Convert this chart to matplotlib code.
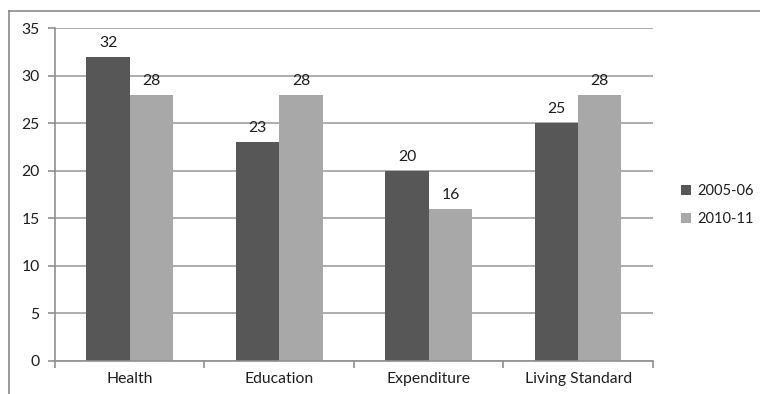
import matplotlib.pyplot as plt
from matplotlib.lines import Line2D
import numpy as np

categories = ['Health', 'Education', 'Expenditure', 'Living Standard']
series_names = ['2005-06', '2010-11']
values_2005 = [32, 23, 20, 25]
values_2010 = [28, 28, 16, 28]

plt.rcParams['font.family'] = ['Lato', 'DejaVu Sans']
fs = 11.3

fig = plt.figure(figsize=(7.6, 3.94), dpi=100)
ax = fig.add_axes([0.0724, 0.0838, 0.7866, 0.845])

x = np.arange(len(categories))
w = 0.29
dark = '#575757'
light = '#a8a8a8'
b1 = ax.bar(x - w / 2, values_2005, w, color=dark, label=series_names[0], zorder=2)
b2 = ax.bar(x + w / 2, values_2010, w, color=light, label=series_names[1], zorder=2)

for bars in (b1, b2):
    for rect in bars:
        h = rect.get_height()
        ax.annotate(f'{h:g}', (rect.get_x() + rect.get_width() / 2, h),
                    xytext=(0, 5), textcoords='offset points',
                    ha='center', va='bottom', fontsize=fs, color='#1e1e1e')

ax.set_xlim(-0.5, len(categories) - 0.5)
ax.set_ylim(0, 35)
ax.set_yticks(range(0, 36, 5))
ax.yaxis.grid(True, color='#a0a0a0', linewidth=1.2, zorder=0)
ax.set_axisbelow(True)

# category labels sit between the boundary ticks
ax.set_xticks(x)
ax.set_xticklabels(categories, fontsize=fs, color='#1e1e1e')
ax.tick_params(axis='x', which='major', length=0, pad=8)
ax.set_xticks(np.arange(-0.5, len(categories)), minor=True)
ax.tick_params(axis='x', which='minor', length=5, color='#909090', width=1.2)
ax.tick_params(axis='y', length=5, color='#909090', width=1.2,
               labelsize=fs, labelcolor='#1e1e1e', pad=6)

for side in ('top', 'right'):
    ax.spines[side].set_visible(False)
for side in ('left', 'bottom'):
    ax.spines[side].set_color('#909090')
    ax.spines[side].set_linewidth(1.2)

leg = ax.legend(loc='center left', bbox_to_anchor=(1.025, 0.469), frameon=False,
                handlelength=0.7, handleheight=0.7, handletextpad=0.4,
                labelspacing=0.95, fontsize=10.5)
for t in leg.get_texts():
    t.set_color('#1e1e1e')

# outer chart frame (top and left edges)
fig.add_artist(Line2D([0.0118, 1.0], [0.972, 0.972], color='#8a8a8a', lw=1.2,
                      transform=fig.transFigure))
fig.add_artist(Line2D([0.0118, 0.0118], [0.0, 0.972], color='#8a8a8a', lw=1.2,
                      transform=fig.transFigure))

fig.savefig('out.png', dpi=100)
